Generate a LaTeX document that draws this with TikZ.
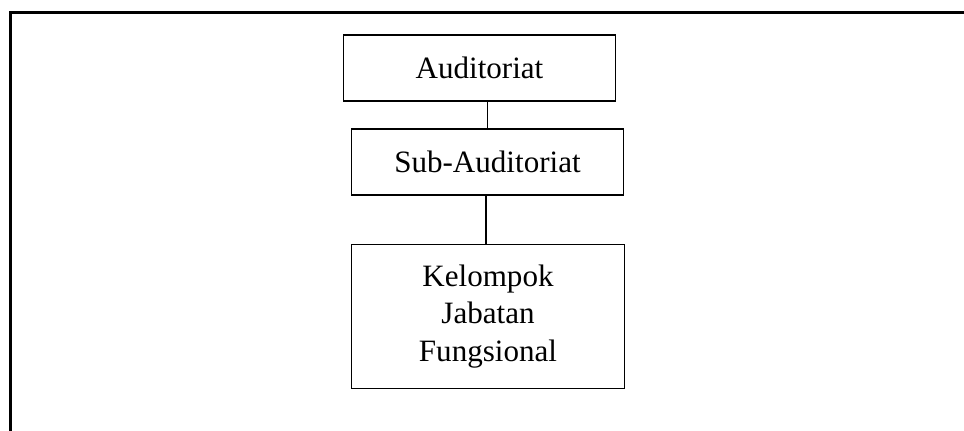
\documentclass[tikz,border=0pt]{standalone}
\usepackage{fontspec}
\setmainfont{Liberation Serif}
\begin{document}
\begin{tikzpicture}[x=0.75pt, y=-0.75pt,
  box/.style={draw, line width=0.8pt, inner sep=0pt, align=center,
    minimum width=204.5pt, font=\fontsize{23.3}{28}\selectfont},
  frame/.style={line width=2.25pt}]
  \useasboundingbox (0,0) rectangle (964,431);
  \draw[frame] (10.5,431) -- (10.5,12.5) -- (964,12.5);
  \node[box, minimum height=49.5pt] (aud) at (479.5,68) {Auditoriat};
  \node[box, minimum height=49.5pt] (sub) at (487.5,162) {Sub-Auditoriat};
  \node[box, minimum height=108.5pt] (kjf) at (488,316.5) {Kelompok\\Jabatan\\Fungsional};
  \draw[line width=0.8pt] (sub.north) -- (sub.north |- aud.south);
  \draw[line width=0.8pt] (kjf.north -| 486,0) -- (sub.south -| 486,0);
\end{tikzpicture}
\end{document}
